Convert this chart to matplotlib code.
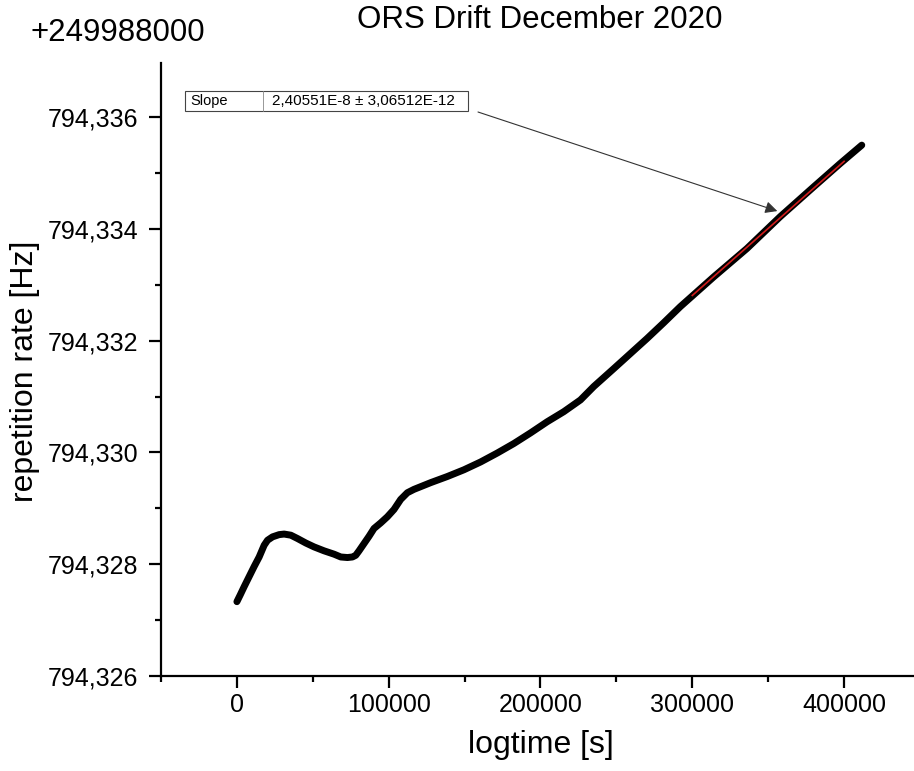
import matplotlib
matplotlib.use("Agg")
import matplotlib.pyplot as plt
from matplotlib.ticker import MultipleLocator, FuncFormatter
from matplotlib.patches import Rectangle

plt.rcParams['font.family'] = ['Liberation Sans', 'DejaVu Sans']

# measured repetition rate, offset by 249988000 Hz
logtime = [0, 2171, 4803, 8092, 11382, 14671, 17961, 20197, 23487, 27829,
           31118, 35526, 39934, 45395, 50855, 57434, 64013, 68421, 72829,
           76118, 78289, 80461, 83750, 87039, 90329, 94737, 99145, 103487,
           107895, 112303, 116645, 127632, 138618, 149539, 160526, 171513,
           182434, 193421, 204408, 215329, 226316, 235066, 248224, 259211,
           270197, 281118, 292105, 314013, 335987, 357895, 379803, 397368,
           411645]
rep_rate = [794.32733, 794.32745, 794.32760, 794.32778, 794.32796, 794.32813,
            794.32834, 794.32843, 794.32849, 794.32853, 794.32854, 794.32852,
            794.32846, 794.32838, 794.32831, 794.32824, 794.32818, 794.32813,
            794.32812, 794.32813, 794.32816, 794.32824, 794.32837, 794.32850,
            794.32864, 794.32874, 794.32885, 794.32898, 794.32916, 794.32928,
            794.32934, 794.32946, 794.32957, 794.32969, 794.32983, 794.32999,
            794.33016, 794.33035, 794.33055, 794.33073, 794.33094, 794.33118,
            794.33150, 794.33177, 794.33204, 794.33232, 794.33261, 794.33314,
            794.33365, 794.33422, 794.33475, 794.33517, 794.33550]

# linear fit over the last part
fit_x = [300000, 400000]
fit_y = [794.33281, 794.33521]
slope_text = "2,40551E-8 ± 3,06512E-12"
offset_text = "+249988000"

W, H = 914, 771
fig = plt.figure(figsize=(W / 100, H / 100), dpi=100)
ax = fig.add_axes([161 / W, 95 / H, (920 - 161) / W, (676 - 63) / H])

ax.plot(logtime, rep_rate, color='black', lw=5, solid_capstyle='round',
        solid_joinstyle='round')
ax.plot(fit_x, fit_y, color='#d01c1c', lw=1.2)

ax.set_xlim(-50000, 450000)
ax.set_ylim(794.326, 794.33697)

ax.xaxis.set_major_locator(MultipleLocator(100000))
ax.xaxis.set_minor_locator(MultipleLocator(50000))
ax.yaxis.set_major_locator(MultipleLocator(0.002))
ax.yaxis.set_minor_locator(MultipleLocator(0.001))
ax.yaxis.set_major_formatter(FuncFormatter(lambda v, p: f"{v:.3f}".replace('.', ',')))
ax.xaxis.set_major_formatter(FuncFormatter(lambda v, p: f"{v:.0f}"))

for s in ['top', 'right']:
    ax.spines[s].set_visible(False)
for s in ['left', 'bottom']:
    ax.spines[s].set_linewidth(1.6)

ax.tick_params(which='major', direction='out', length=8.5, width=1.6, labelsize=18)
ax.tick_params(which='minor', direction='out', length=4.5, width=1.6)
ax.tick_params(axis='y', which='major', pad=8)
ax.tick_params(axis='x', which='major', pad=4)

fig.text(540 / W, 1 - 20 / H, "ORS Drift December 2020", fontsize=22.5,
         ha='center', va='center')
fig.text(118 / W, 1 - 33 / H, offset_text, fontsize=22.5, ha='center', va='center')
fig.text(25 / W, 1 - 371 / H, "repetition rate [Hz]", fontsize=23,
         rotation=90, ha='center', va='center')
fig.text(541 / W, 1 - 745 / H, "logtime [s]", fontsize=23, ha='center', va='center')

# slope table box
fig.patches.append(Rectangle((185 / W, 1 - 111 / H), (468 - 185) / W, 20 / H,
                             transform=fig.transFigure, fill=False,
                             edgecolor='#444444', lw=0.8))
fig.lines.append(plt.Line2D([263 / W, 263 / W], [1 - 111 / H, 1 - 91 / H],
                            transform=fig.transFigure, color='#888888', lw=0.6))
fig.text(190 / W, 1 - 101 / H, "Slope", fontsize=10.5, ha='left', va='center')
fig.text(272 / W, 1 - 101 / H, slope_text, fontsize=11, ha='left', va='center')

ax.annotate("", xy=(356000, 794.33432), xycoords='data',
            xytext=(478 / W, 1 - 112 / H), textcoords='figure fraction',
            arrowprops=dict(arrowstyle='-|>', color='#333333', lw=0.8,
                            mutation_scale=18, shrinkA=0, shrinkB=0))

fig.savefig("out.png", dpi=100)
